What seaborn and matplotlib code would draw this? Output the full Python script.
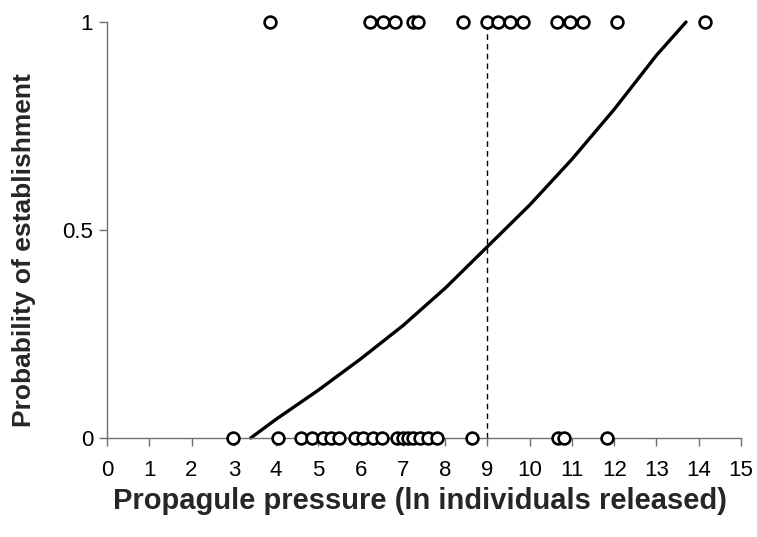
import matplotlib
matplotlib.use("Agg")
import matplotlib.pyplot as plt
import seaborn as sns
import pandas as pd

# Observed introductions (ln individuals released) that established (1) or failed (0)
established_x = [3.86, 6.22, 6.53, 6.81, 7.24, 7.36, 8.42, 8.99, 9.25, 9.53, 9.84,
                 10.65, 10.95, 11.26, 12.07, 14.15]
failed_x = [2.98, 4.05, 4.6, 4.85, 5.1, 5.3, 5.5, 5.87, 6.05, 6.3, 6.5, 6.86, 7.0,
            7.12, 7.25, 7.4, 7.6, 7.8, 8.63, 10.68, 10.82, 11.83]

# Fitted probability curve
curve_x = [3.4, 4, 5, 6, 7, 8, 9, 10, 11, 12, 13, 13.7]
curve_y = [0.0, 0.045, 0.115, 0.19, 0.27, 0.36, 0.46, 0.56, 0.67, 0.79, 0.92, 1.0]

threshold_x = 9

x_ticks = list(range(0, 16))
y_ticks = [0, 0.5, 1]
y_tick_labels = ["0", "0.5", "1"]

pts = pd.DataFrame({
    "x": established_x + failed_x,
    "y": [1] * len(established_x) + [0] * len(failed_x),
})
curve = pd.DataFrame({"x": curve_x, "y": curve_y})

sns.set_style("white")
plt.rcParams["font.family"] = ["Liberation Sans", "DejaVu Sans"]

fig = plt.figure(figsize=(7.57, 5.37), dpi=100)
ax = fig.add_axes([107 / 757, 1 - 438 / 537, (741 - 107) / 757, (438 - 22) / 537])

ax.vlines(threshold_x, 0, 1, colors="black", linestyles=(0, (4, 3)), linewidth=1.0, zorder=1)
sns.lineplot(data=curve, x="x", y="y", ax=ax, color="black", linewidth=2.4, zorder=2,
             clip_on=False)
sns.scatterplot(data=pts, x="x", y="y", ax=ax, marker="o", s=72, facecolor="white",
                edgecolor="black", linewidth=1.9, zorder=3, clip_on=False)

ax.set_xlim(0, 15)
ax.set_ylim(0, 1)
ax.set_xticks(x_ticks)
ax.set_yticks(y_ticks)
ax.set_yticklabels(y_tick_labels)

for s in ["top", "right"]:
    ax.spines[s].set_visible(False)
for s in ["left", "bottom"]:
    ax.spines[s].set_color("#707070")
    ax.spines[s].set_linewidth(1.0)

ax.tick_params(axis="both", which="both", direction="out", length=6, width=1.0,
               color="#707070", labelsize=16, labelcolor="black",
               bottom=True, left=True)
ax.tick_params(axis="x", pad=10)
ax.tick_params(axis="y", pad=4)

ax.set_xlabel("Propagule pressure (ln individuals released)", fontsize=21,
              fontweight="bold", labelpad=4)
ax.set_ylabel("Probability of establishment", fontsize=19, fontweight="bold",
              labelpad=19)
ax.xaxis.label.set_x(0.493)
ax.yaxis.label.set_y(0.452)

fig.savefig("out.png", dpi=100)
